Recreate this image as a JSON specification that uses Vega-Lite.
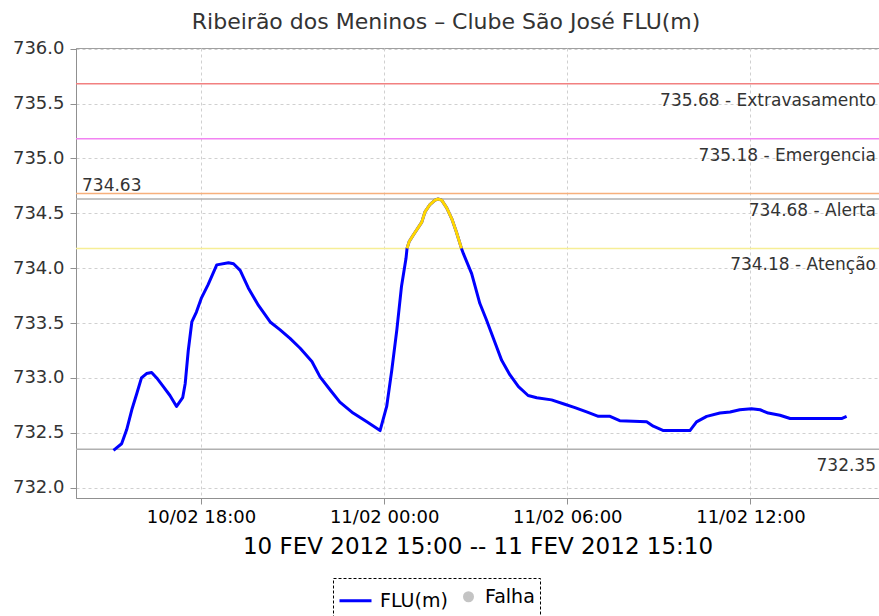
{
  "$schema": "https://vega.github.io/schema/vega-lite/v6.json",
  "width": 803,
  "height": 450,
  "autosize": {"type": "none"},
  "padding": {"left": 76, "top": 48, "right": 0, "bottom": 118},
  "background": "white",
  "title": {
    "text": "Ribeirão dos Meninos – Clube São José FLU(m)",
    "font": "DejaVu Sans",
    "fontSize": 22,
    "fontWeight": "normal",
    "color": "#333333",
    "anchor": "middle",
    "frame": "bounds",
    "offset": 6
  },
  "config": {
    "font": "DejaVu Sans",
    "view": {"stroke": "#a0a0a0", "strokeWidth": 1},
    "axis": {
      "gridColor": "#d0d0d0",
      "gridDash": [3, 3],
      "gridWidth": 1,
      "domainColor": "#909090",
      "tickColor": "#909090",
      "labelFont": "DejaVu Sans",
      "titleFont": "DejaVu Sans"
    }
  },
  "datasets": {
    "nivel": [
      {"hora": "2012-02-10T15:08:00", "flu": 732.34},
      {"hora": "2012-02-10T15:24:00", "flu": 732.40},
      {"hora": "2012-02-10T15:34:00", "flu": 732.53},
      {"hora": "2012-02-10T15:44:00", "flu": 732.71},
      {"hora": "2012-02-10T15:54:00", "flu": 732.86},
      {"hora": "2012-02-10T16:03:00", "flu": 733.00},
      {"hora": "2012-02-10T16:13:00", "flu": 733.04},
      {"hora": "2012-02-10T16:23:00", "flu": 733.05},
      {"hora": "2012-02-10T16:33:00", "flu": 733.00},
      {"hora": "2012-02-10T16:46:00", "flu": 732.92},
      {"hora": "2012-02-10T16:59:00", "flu": 732.84},
      {"hora": "2012-02-10T17:12:00", "flu": 732.74},
      {"hora": "2012-02-10T17:24:00", "flu": 732.82},
      {"hora": "2012-02-10T17:29:00", "flu": 732.95},
      {"hora": "2012-02-10T17:35:00", "flu": 733.25},
      {"hora": "2012-02-10T17:42:00", "flu": 733.51},
      {"hora": "2012-02-10T17:51:00", "flu": 733.60},
      {"hora": "2012-02-10T18:01:00", "flu": 733.73},
      {"hora": "2012-02-10T18:14:00", "flu": 733.85},
      {"hora": "2012-02-10T18:31:00", "flu": 734.03},
      {"hora": "2012-02-10T18:54:00", "flu": 734.05},
      {"hora": "2012-02-10T19:04:00", "flu": 734.04},
      {"hora": "2012-02-10T19:17:00", "flu": 733.98},
      {"hora": "2012-02-10T19:33:00", "flu": 733.82},
      {"hora": "2012-02-10T19:53:00", "flu": 733.66},
      {"hora": "2012-02-10T20:16:00", "flu": 733.51},
      {"hora": "2012-02-10T20:35:00", "flu": 733.44},
      {"hora": "2012-02-10T20:55:00", "flu": 733.36},
      {"hora": "2012-02-10T21:15:00", "flu": 733.27},
      {"hora": "2012-02-10T21:38:00", "flu": 733.15},
      {"hora": "2012-02-10T21:54:00", "flu": 733.01},
      {"hora": "2012-02-10T22:14:00", "flu": 732.89},
      {"hora": "2012-02-10T22:33:00", "flu": 732.78},
      {"hora": "2012-02-10T22:59:00", "flu": 732.68},
      {"hora": "2012-02-10T23:26:00", "flu": 732.60},
      {"hora": "2012-02-10T23:52:00", "flu": 732.52},
      {"hora": "2012-02-11T00:05:00", "flu": 732.74},
      {"hora": "2012-02-11T00:15:00", "flu": 733.07},
      {"hora": "2012-02-11T00:25:00", "flu": 733.44},
      {"hora": "2012-02-11T00:34:00", "flu": 733.83},
      {"hora": "2012-02-11T00:43:00", "flu": 734.09},
      {"hora": "2012-02-11T00:45:00", "flu": 734.18},
      {"hora": "2012-02-11T00:49:00", "flu": 734.24},
      {"hora": "2012-02-11T00:57:00", "flu": 734.30},
      {"hora": "2012-02-11T01:14:00", "flu": 734.42},
      {"hora": "2012-02-11T01:20:00", "flu": 734.51},
      {"hora": "2012-02-11T01:30:00", "flu": 734.58},
      {"hora": "2012-02-11T01:40:00", "flu": 734.62},
      {"hora": "2012-02-11T01:46:00", "flu": 734.63},
      {"hora": "2012-02-11T01:53:00", "flu": 734.62},
      {"hora": "2012-02-11T02:03:00", "flu": 734.55},
      {"hora": "2012-02-11T02:13:00", "flu": 734.45},
      {"hora": "2012-02-11T02:22:00", "flu": 734.33},
      {"hora": "2012-02-11T02:32:00", "flu": 734.18},
      {"hora": "2012-02-11T02:36:00", "flu": 734.13},
      {"hora": "2012-02-11T02:52:00", "flu": 733.95},
      {"hora": "2012-02-11T03:08:00", "flu": 733.68},
      {"hora": "2012-02-11T03:21:00", "flu": 733.53},
      {"hora": "2012-02-11T03:38:00", "flu": 733.32},
      {"hora": "2012-02-11T03:51:00", "flu": 733.16},
      {"hora": "2012-02-11T04:07:00", "flu": 733.03},
      {"hora": "2012-02-11T04:24:00", "flu": 732.92},
      {"hora": "2012-02-11T04:43:00", "flu": 732.84},
      {"hora": "2012-02-11T05:00:00", "flu": 732.82},
      {"hora": "2012-02-11T05:29:00", "flu": 732.80},
      {"hora": "2012-02-11T05:55:00", "flu": 732.76},
      {"hora": "2012-02-11T06:15:00", "flu": 732.73},
      {"hora": "2012-02-11T06:38:00", "flu": 732.69},
      {"hora": "2012-02-11T07:01:00", "flu": 732.65},
      {"hora": "2012-02-11T07:24:00", "flu": 732.65},
      {"hora": "2012-02-11T07:43:00", "flu": 732.61},
      {"hora": "2012-02-11T08:36:00", "flu": 732.60},
      {"hora": "2012-02-11T08:49:00", "flu": 732.56},
      {"hora": "2012-02-11T09:09:00", "flu": 732.52},
      {"hora": "2012-02-11T10:01:00", "flu": 732.52},
      {"hora": "2012-02-11T10:14:00", "flu": 732.60},
      {"hora": "2012-02-11T10:34:00", "flu": 732.65},
      {"hora": "2012-02-11T11:00:00", "flu": 732.68},
      {"hora": "2012-02-11T11:20:00", "flu": 732.69},
      {"hora": "2012-02-11T11:39:00", "flu": 732.71},
      {"hora": "2012-02-11T12:02:00", "flu": 732.72},
      {"hora": "2012-02-11T12:19:00", "flu": 732.71},
      {"hora": "2012-02-11T12:35:00", "flu": 732.68},
      {"hora": "2012-02-11T12:58:00", "flu": 732.66},
      {"hora": "2012-02-11T13:18:00", "flu": 732.63},
      {"hora": "2012-02-11T14:10:00", "flu": 732.63},
      {"hora": "2012-02-11T14:59:00", "flu": 732.63},
      {"hora": "2012-02-11T15:09:00", "flu": 732.65}
    ],
    "referencias": [
      {"nome": "Extravasamento", "valor": 735.68, "rotulo": "735.68 - Extravasamento", "tipo": "limite"},
      {"nome": "Emergencia", "valor": 735.18, "rotulo": "735.18 - Emergencia", "tipo": "limite"},
      {"nome": "Alerta", "valor": 734.68, "rotulo": "734.68 - Alerta", "tipo": "limite"},
      {"nome": "Atenção", "valor": 734.18, "rotulo": "734.18 - Atenção", "tipo": "limite"},
      {"nome": "Máximo", "valor": 734.63, "rotulo": "734.63", "tipo": "maximo"},
      {"nome": "Mínimo", "valor": 732.35, "rotulo": "732.35", "tipo": "minimo"}
    ],
    "legenda": [
      {"serie": "FLU(m)"},
      {"serie": "Falha"}
    ]
  },
  "layer": [
    {
      "data": {"name": "referencias"},
      "mark": {"type": "rule", "strokeWidth": 1.5},
      "encoding": {
        "y": {
          "field": "valor",
          "type": "quantitative",
          "scale": {"domain": [731.906, 736.006], "nice": false, "zero": false},
          "axis": {
            "values": [732.0, 732.5, 733.0, 733.5, 734.0, 734.5, 735.0, 735.5, 736.0],
            "format": ".1f",
            "title": null,
            "labelFontSize": 18,
            "labelColor": "#333333",
            "tickSize": 6,
            "labelPadding": 6,
            "grid": true
          }
        },
        "color": {
          "field": "nome",
          "type": "nominal",
          "legend": null,
          "scale": {
            "domain": ["Extravasamento", "Emergencia", "Alerta", "Atenção", "Máximo", "Mínimo"],
            "range": ["#f28080", "#f283f2", "#f7b07c", "#f6ee96", "#b0b0b0", "#b0b0b0"]
          }
        }
      }
    },
    {
      "data": {"name": "referencias"},
      "transform": [{"filter": "datum.tipo != 'maximo'"}],
      "mark": {"type": "text", "align": "right", "baseline": "alphabetic", "dx": -3, "dy": 22, "fontSize": 17, "color": "#333333"},
      "encoding": {
        "x": {"datum": {"year": 2012, "month": 2, "date": 11, "hours": 16, "minutes": 12, "seconds": 40}, "type": "temporal"},
        "y": {"field": "valor", "type": "quantitative"},
        "text": {"field": "rotulo"}
      }
    },
    {
      "data": {"name": "referencias"},
      "transform": [{"filter": "datum.tipo == 'maximo'"}],
      "mark": {"type": "text", "align": "left", "baseline": "alphabetic", "dx": 6, "dy": -8, "fontSize": 17, "color": "#333333"},
      "encoding": {
        "x": {"datum": {"year": 2012, "month": 2, "date": 10, "hours": 13, "minutes": 54, "seconds": 20}, "type": "temporal"},
        "y": {"field": "valor", "type": "quantitative"},
        "text": {"field": "rotulo"}
      }
    },
    {
      "data": {"name": "nivel"},
      "mark": {"type": "line", "color": "#0000ff", "strokeWidth": 3, "strokeJoin": "round"},
      "encoding": {
        "x": {
          "field": "hora",
          "type": "temporal",
          "scale": {
            "domain": [
              {"year": 2012, "month": 2, "date": 10, "hours": 13, "minutes": 54, "seconds": 20},
              {"year": 2012, "month": 2, "date": 11, "hours": 16, "minutes": 12, "seconds": 40}
            ]
          },
          "axis": {
            "values": [
              {"year": 2012, "month": 2, "date": 10, "hours": 18},
              {"year": 2012, "month": 2, "date": 11, "hours": 0},
              {"year": 2012, "month": 2, "date": 11, "hours": 6},
              {"year": 2012, "month": 2, "date": 11, "hours": 12}
            ],
            "format": "%d/%m %H:%M",
            "labelFontSize": 18,
            "labelColor": "#000000",
            "tickSize": 6,
            "labelPadding": 4,
            "grid": true,
            "title": "10 FEV 2012 15:00 -- 11 FEV 2012 15:10",
            "titleFontSize": 23,
            "titleFontWeight": "normal",
            "titleColor": "#000000",
            "titlePadding": 9
          }
        },
        "y": {"field": "flu", "type": "quantitative"}
      }
    },
    {
      "data": {"name": "nivel"},
      "transform": [{"filter": "datum.flu >= 734.18"}],
      "mark": {"type": "line", "color": "#ffd700", "strokeWidth": 3, "strokeJoin": "round"},
      "encoding": {
        "x": {"field": "hora", "type": "temporal"},
        "y": {"field": "flu", "type": "quantitative"}
      }
    },
    {
      "data": {"name": "legenda"},
      "mark": {"type": "point", "filled": true, "opacity": 0},
      "encoding": {
        "fill": {
          "field": "serie", "type": "nominal",
          "scale": {"domain": ["FLU(m)", "Falha"], "range": ["#0000ff", "#c4c4c4"]},
          "legend": {
            "title": null,
            "orient": "none",
            "legendX": 257,
            "legendY": 530,
            "direction": "horizontal",
            "labelFontSize": 19,
            "labelColor": "#000000",
            "labelOffset": 7,
            "columnPadding": 10,
            "padding": 5,
            "strokeColor": "#000000",
            "symbolStrokeWidth": 3,
            "symbolOpacity": 1,
            "encode": {"legend": {"update": {"strokeDash": {"value": [3, 2]}}}}
          }
        },
        "stroke": {
          "field": "serie", "type": "nominal",
          "scale": {"domain": ["FLU(m)", "Falha"], "range": ["#0000ff", "#c4c4c4"]},
          "legend": {"title": null}
        },
        "shape": {
          "field": "serie", "type": "nominal",
          "scale": {"domain": ["FLU(m)", "Falha"], "range": ["stroke", "circle"]},
          "legend": {"title": null}
        },
        "size": {
          "field": "serie", "type": "nominal",
          "scale": {"domain": ["FLU(m)", "Falha"], "range": [1024, 64]},
          "legend": {"title": null}
        }
      }
    }
  ]
}
